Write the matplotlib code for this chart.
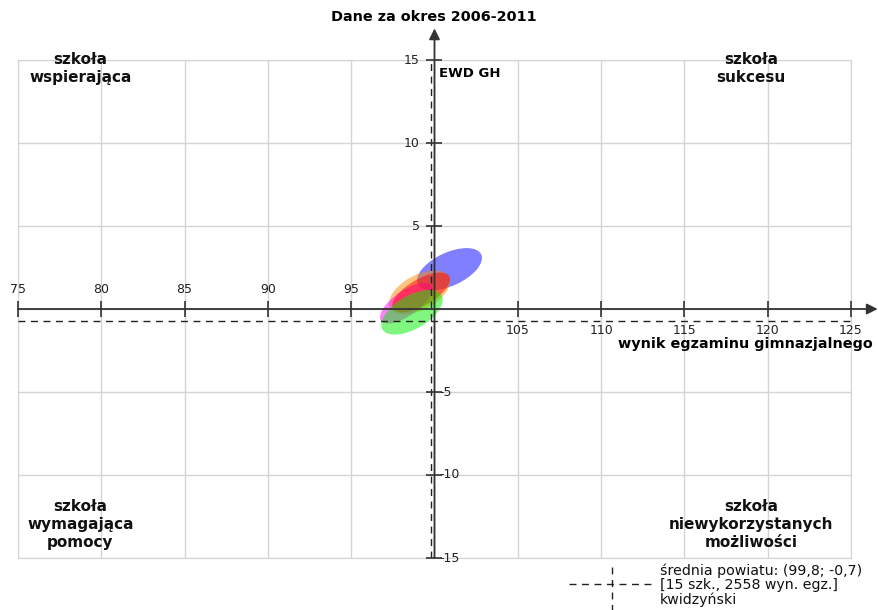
import matplotlib
matplotlib.use("Agg")
import matplotlib.pyplot as plt
from matplotlib.patches import Ellipse
from matplotlib.lines import Line2D

# Dane
x_ticks = [75, 80, 85, 90, 95, 100, 105, 110, 115, 120, 125]
y_ticks = [-15, -10, -5, 0, 5, 10, 15]

# Elipsy EWD dla kolejnych grup
ell_x = [100.9, 99.1, 98.3, 99.2, 98.65]
ell_y = [2.4, 1.0, 0.35, 1.0, -0.2]
ell_w = [4.2, 4.0, 3.7, 3.9, 4.1]
ell_h = [2.0, 2.1, 1.5, 1.6, 2.0]
ell_kat = [25, 28, 35, 30, 30]
ell_kolor = ['#0000ff', '#ff8c00', '#ff00ff', '#ff0000', '#00ee00']

srednia_x = 99.8
srednia_y = -0.7

fig = plt.figure(figsize=(8.79, 6.10), dpi=100)
ax = fig.add_axes([18 / 879, 52 / 610, 833 / 879, 498 / 610])
ax.set_xlim(75, 125)
ax.set_ylim(-15, 15)

# siatka
ax.set_xticks(x_ticks)
ax.set_yticks(y_ticks)
ax.tick_params(length=0, labelbottom=False, labelleft=False)
ax.grid(True, color='#d4d4d4', lw=1)
for s in ax.spines.values():
    s.set_color('#d4d4d4')

# elipsy
for i in range(len(ell_x)):
    e = Ellipse((ell_x[i], ell_y[i]), ell_w[i], ell_h[i], angle=ell_kat[i],
                facecolor=ell_kolor[i], alpha=0.5, edgecolor='none', zorder=3)
    ax.add_patch(e)

# linie średniej
ax.axhline(srednia_y, color='#222222', lw=1, ls=(0, (5, 4)), zorder=4)
ax.axvline(srednia_x, color='#222222', lw=1, ls=(0, (5, 4)), zorder=4)

# osie ze strzałkami
ax.annotate('', xy=(126.6, 0), xytext=(75, 0), annotation_clip=False,
            arrowprops=dict(arrowstyle='-|>', color='#333333', lw=1.3,
                            mutation_scale=16, shrinkA=0, shrinkB=0), zorder=5)
ax.annotate('', xy=(100, 16.9), xytext=(100, -15), annotation_clip=False,
            arrowprops=dict(arrowstyle='-|>', color='#333333', lw=1.3,
                            mutation_scale=16, shrinkA=0, shrinkB=0), zorder=5)

# znaczniki na osiach
tx = [t for t in x_ticks if t != 100]
ty = [t for t in y_ticks if t != 0]
ax.plot(tx, [0] * len(tx), ls='none', marker='|', ms=11, mew=1.2,
        color='#333333', clip_on=False, zorder=5)
ax.plot([100] * len(ty), ty, ls='none', marker='_', ms=11, mew=1.2,
        color='#333333', clip_on=False, zorder=5)

# etykiety osi X
for t in tx:
    if t < 100:
        ax.text(t, 1.15, str(t), ha='center', va='center', fontsize=9, color='#222222')
    else:
        ax.text(t, -1.27, str(t), ha='center', va='center', fontsize=9, color='#222222')

# etykiety osi Y
for t in ty:
    if t > 0:
        ax.text(99.1, t, str(t), ha='right', va='center', fontsize=9, color='#222222')
    else:
        ax.text(100.3, t, '-' + str(-t), ha='left', va='center', fontsize=9, color='#222222')

ax.text(100.25, 14.6, 'EWD GH', ha='left', va='top', fontsize=9.5, fontweight='bold')
ax.text(126.3, -2.1, 'wynik egzaminu gimnazjalnego', ha='right', va='center',
        fontsize=10.4, fontweight='bold', clip_on=False)

# opisy ćwiartek
kw = dict(ha='center', fontsize=11, fontweight='bold', linespacing=1.25, color='#111111')
ax.text(78.75, 15.5, 'szkoła\nwspierająca', va='top', **kw)
ax.text(119.0, 15.5, 'szkoła\nsukcesu', va='top', **kw)
ax.text(78.75, -14.5, 'szkoła\nwymagająca\npomocy', va='bottom', **kw)
ax.text(119.0, -14.5, 'szkoła\nniewykorzystanych\nmożliwości', va='bottom', **kw)

fig.text(434 / 879, 1 - 17 / 610, 'Dane za okres 2006-2011', ha='center', va='center',
         fontsize=10.4, fontweight='bold')

# legenda średniej
fig.add_artist(Line2D([569 / 879, 655 / 879], [1 - 584 / 610, 1 - 584 / 610],
                      color='#222222', lw=1, ls=(0, (5, 4))))
fig.add_artist(Line2D([612 / 879, 612 / 879], [1 - 567 / 610, 1 - 610 / 610],
                      color='#222222', lw=1, ls=(0, (5, 4))))
fig.text(660 / 879, 1 - 564 / 610,
         'średnia powiatu: (99,8; -0,7)\n[15 szk., 2558 wyn. egz.]\nkwidzyński',
         ha='left', va='top', fontsize=10.2, linespacing=0.98, color='#111111')

fig.savefig('out.png', dpi=100)
